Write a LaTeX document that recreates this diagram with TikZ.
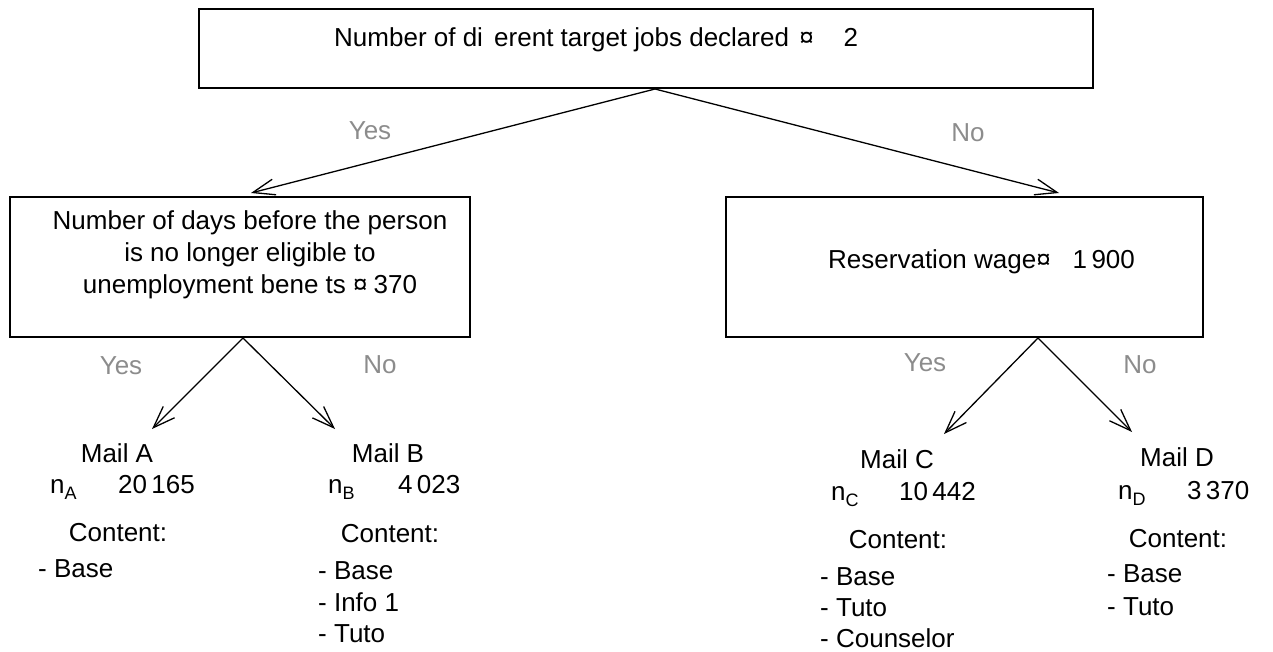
\documentclass[tikz,border=0pt]{standalone}
\usepackage{fontspec}
\setmainfont{Liberation Sans}
\usetikzlibrary{arrows.meta}
\definecolor{labgray}{RGB}{140,140,140}
\newcommand{\nsub}[1]{n\raisebox{-0.25em}{\fontsize{18}{18}\selectfont #1}}
\begin{document}
\begin{tikzpicture}[x=1pt,y=-1pt,
  box/.style={draw,line width=1.6pt,inner sep=0pt},
  txt/.style={inner sep=0pt,font=\fontsize{26}{32}\selectfont},
  lab/.style={txt,text=labgray},
  arr/.style={line width=1.3pt,-{Straight Barb[length=22pt,width=16pt,line width=1.3pt]}}]
\useasboundingbox (0,0) rectangle (1273,652);
% boxes
\node[box,minimum width=894pt,minimum height=79pt] (top) at (646,48.5) {};
\node[box,minimum width=460pt,minimum height=140pt] (left) at (240,267) {};
\node[box,minimum width=477pt,minimum height=140pt] (right) at (964.5,267) {};
% box texts
\node[txt,anchor=base west] (toptxt) at (334,47) {Number of di\hspace{4pt} erent target jobs declared \hspace{3pt}¤\hspace{30pt}2};
\node[txt,align=center] (lefttxt) at (250,254.5) {Number of days before the person\\is no longer eligible to\\unemployment bene ts ¤\hspace{6pt}370};
\node[txt,anchor=base west] (righttxt) at (828,269) {Reservation wage¤\hspace{22pt}1\,900};
% labels
\node[lab] (y1) at (370,131) {Yes};
\node[lab] (n1) at (968,133) {No};
\node[lab] (y2) at (121,366) {Yes};
\node[lab] (n2) at (380,365) {No};
\node[lab] (y3) at (925,363) {Yes};
\node[lab] (n3) at (1140,365) {No};
% arrow geometry
\coordinate (a0) at (655,89);
\coordinate (tl) at (251,193);
\coordinate (tr) at (1059,193);
\coordinate (a1) at (243,338);
\coordinate (tA) at (152,429);
\coordinate (tB) at (335,429);
\coordinate (a2) at (1038,338);
\coordinate (tC) at (944,434);
\coordinate (tD) at (1132,432);
\draw[arr] (a0) -- (tl);
\draw[arr] (a0) -- (tr);
\draw[arr] (a1) -- (tA);
\draw[arr] (a1) -- (tB);
\draw[arr] (a2) -- (tC);
\draw[arr] (a2) -- (tD);
% leaf A
\node[txt,anchor=base] (mA) at (117,462) {Mail A};
\node[txt,anchor=base west] (nA) at (50,493) {\nsub{A}};
\node[txt,anchor=base west] (vA) at (118,493) {20\,165};
\node[txt,anchor=base] (cA) at (118,541) {Content:};
\node[txt,anchor=base west] (lA) at (38,577) {- Base};
% leaf B
\node[txt,anchor=base] (mB) at (388,462) {Mail B};
\node[txt,anchor=base west] (nB) at (328,493) {\nsub{B}};
\node[txt,anchor=base west] (vB) at (398,493) {4\,023};
\node[txt,anchor=base] (cB) at (390,542) {Content:};
\node[txt,anchor=base west] (lB) at (318,579) {- Base};
\node[txt,anchor=base west] (lB2) at (318,611) {- Info 1};
\node[txt,anchor=base west] (lB3) at (318,642) {- Tuto};
% leaf C
\node[txt,anchor=base] (mC) at (897,468) {Mail C};
\node[txt,anchor=base west] (nC) at (831,500) {\nsub{C}};
\node[txt,anchor=base west] (vC) at (899,500) {10\,442};
\node[txt,anchor=base] (cC) at (898,548) {Content:};
\node[txt,anchor=base west] (lC) at (820,585) {- Base};
\node[txt,anchor=base west] (lC2) at (820,616) {- Tuto};
\node[txt,anchor=base west] (lC3) at (820,647) {- Counselor};
% leaf D
\node[txt,anchor=base] (mD) at (1177,466) {Mail D};
\node[txt,anchor=base west] (nD) at (1118,499) {\nsub{D}};
\node[txt,anchor=base west] (vD) at (1187,499) {3\,370};
\node[txt,anchor=base] (cD) at (1178,547) {Content:};
\node[txt,anchor=base west] (lD) at (1107,582) {- Base};
\node[txt,anchor=base west] (lD2) at (1107,615) {- Tuto};
\end{tikzpicture}
\end{document}
